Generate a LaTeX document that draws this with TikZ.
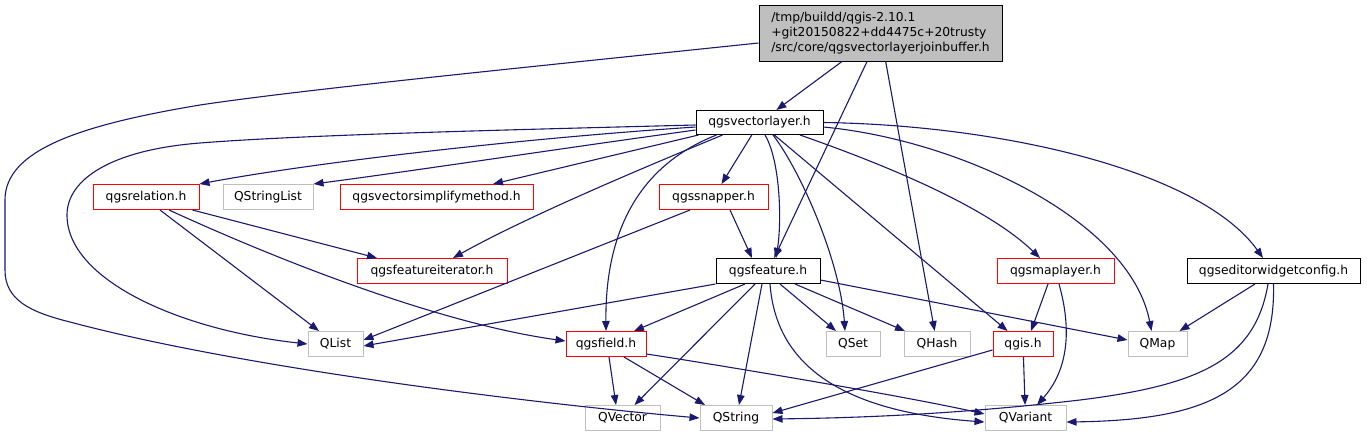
\documentclass[tikz,border=0pt]{standalone}
\usepackage{fontspec}
\setmainfont{DejaVu Sans}
\usetikzlibrary{arrows.meta}
\definecolor{edgecol}{HTML}{191970}
\definecolor{gbox}{HTML}{BFBFBF}
\definecolor{rbox}{HTML}{FF0000}
\begin{document}
\begin{tikzpicture}[x=1pt,y=-1pt,
  nb/.style={rectangle, inner sep=0pt, minimum height=25pt, line width=1pt, fill=white,
             font=\fontsize{12.3}{15}\selectfont},
  redbox/.style={nb, draw=rbox},
  graybox/.style={nb, draw=gbox},
  blackbox/.style={nb, draw=black},
  dep/.style={draw=edgecol, line width=1.1pt, -{Triangle[length=10pt,width=7.5pt]}}]
\useasboundingbox (0,0) rectangle (1367,440);

% nodes
\node[nb, draw=black, fill=gbox, minimum width=243pt, minimum height=56pt, align=left] (root) at (880.5,33)
  {/tmp/buildd/qgis-2.10.1\\+git20150822+dd4475c+20trusty\\/src/core/qgsvectorlayerjoinbuffer.h};
\node[blackbox, minimum width=127pt, minimum height=24pt] (vl) at (759.5,122.5) {qgsvectorlayer.h};
\node[redbox, minimum width=106pt] (rel) at (146,197) {qgsrelation.h};
\node[graybox, minimum width=90pt] (qsl) at (268,197) {QStringList};
\node[redbox, minimum width=193pt] (vsm) at (436.5,197) {qgsvectorsimplifymethod.h};
\node[redbox, minimum width=109pt] (snap) at (713.5,197) {qgssnapper.h};
\node[redbox, minimum width=150pt] (fit) at (432,271) {qgsfeatureiterator.h};
\node[blackbox, minimum width=104pt] (feat) at (768,271) {qgsfeature.h};
\node[redbox, minimum width=117pt] (ml) at (1055.5,271) {qgsmaplayer.h};
\node[blackbox, minimum width=173pt] (ewc) at (1273.5,271) {qgseditorwidgetconfig.h};
\node[graybox, minimum width=55pt] (qlist) at (335.5,344) {QList};
\node[redbox, minimum width=80pt] (field) at (606,344) {qgsfield.h};
\node[graybox, minimum width=54pt] (qset) at (853,344) {QSet};
\node[graybox, minimum width=66pt] (qhash) at (937,344) {QHash};
\node[redbox, minimum width=60pt] (qgis) at (1023,344) {qgis.h};
\node[graybox, minimum width=59pt] (qmap) at (1157.5,344) {QMap};
\node[graybox, minimum width=75pt] (qvec) at (622.5,418) {QVector};
\node[graybox, minimum width=72pt] (qstr) at (736,418) {QString};
\node[graybox, minimum width=81pt] (qvar) at (1025.5,418) {QVariant};

% root edges
\draw[dep] (root) -- (vl);
\draw[dep] (root) -- (feat);
\draw[dep] (root) -- (qhash);
\draw[dep] ([yshift=-10pt]root.west) .. controls (500,70) and (300,90) .. (200,105)
  .. controls (80,125) and (5,150) .. (5,200) -- (5,270)
  .. controls (5,300) and (30,312) .. (70,322)
  .. controls (250,370) and (550,405) .. (qstr.west);

% qgsvectorlayer.h edges
\draw[dep] ([yshift=-2.5pt]vl.west) .. controls (500,130) and (300,135) .. (200,143)
  .. controls (110,150) and (67,180) .. (67,215)
  .. controls (67,280) and (180,330) .. (qlist.west);
\draw[dep] ([yshift=-4.5pt]vl.west) .. controls (500,140) and (300,165) .. (rel.north east);
\draw[dep] ([yshift=-7.5pt]vl.west) .. controls (550,150) and (420,170) .. (qsl.north east);
\draw[dep] ([xshift=3pt]vl.south west) -- ([xshift=56.5pt]vsm.north);
\draw[dep] (vl) -- (snap);
\draw[dep] ([xshift=27pt]vl.south west) .. controls (650,165) and (530,215) .. ([xshift=21pt]fit.north);
\draw[dep] ([xshift=21pt]vl.south west) .. controls (640,165) and (605,230) .. (field.north);
\draw[dep] ([xshift=5.5pt]vl.south) .. controls (780,160) and (782,220) .. ([xshift=8pt]feat.north);
\draw[dep] ([xshift=13.5pt]vl.south) .. controls (800,170) and (840,260) .. ([xshift=-8pt]qset.north);
\draw[dep] (vl) -- (qgis);
\draw[dep] ([xshift=40.5pt]vl.south) .. controls (900,170) and (990,210) .. ([xshift=-15.5pt]ml.north);
\draw[dep] ([yshift=-4.5pt]vl.east) .. controls (960,140) and (1130,220) .. ([xshift=-6pt]qmap.north);
\draw[dep] (vl.east) .. controls (1000,125) and (1200,170) .. ([xshift=-10.5pt]ewc.north);

% qgsrelation.h edges
\draw[dep] ([xshift=14pt]rel.south) -- ([xshift=-16.5pt]qlist.north);
\draw[dep] ([xshift=23pt]rel.south) .. controls (300,270) and (450,325) .. ([yshift=3pt]field.west);
\draw[dep] ([xshift=-7pt]rel.south east) -- ([xshift=-55pt]fit.north);

% qgssnapper.h edges
\draw[dep] ([xshift=-23.5pt]snap.south) -- ([yshift=4pt]qlist.east);
\draw[dep] ([xshift=16.5pt]snap.south) -- ([xshift=-16pt]feat.north);

% qgsfeature.h edges
\draw[dep] (feat.south west) -- ([yshift=-2pt]qlist.east);
\draw[dep] ([xshift=-23pt]feat.south) -- ([xshift=28pt]field.north);
\draw[dep] ([xshift=-13pt]feat.south) -- ([xshift=12pt]qvec.north);
\draw[dep] ([xshift=-6pt]feat.south) -- ([xshift=3pt]qstr.north);
\draw[dep] ([xshift=2pt]feat.south) .. controls (775,350) and (820,410) .. ([yshift=-4pt]qvar.west);
\draw[dep] ([xshift=12pt]feat.south) -- ([xshift=-17pt]qset.north);
\draw[dep] ([xshift=27pt]feat.south) -- ([xshift=-32pt]qhash.north);
\draw[dep] ([yshift=-9pt]feat.east) -- ([yshift=4pt]qmap.west);

% qgsfield.h edges
\draw[dep] ([xshift=3pt]field.south) -- ([xshift=-6.5pt]qvec.north);
\draw[dep] ([xshift=18pt]field.south) -- ([xshift=-31pt]qstr.north);
\draw[dep] ([yshift=-10pt]field.east) .. controls (700,362) and (900,395) .. ([yshift=4pt]qvar.west);

% qgsmaplayer.h edges
\draw[dep] ([xshift=-7.5pt]ml.south) -- ([xshift=8pt]qgis.north);
\draw[dep] ([xshift=3.5pt]ml.south) .. controls (1072,330) and (1068,370) .. ([xshift=11.5pt]qvar.north);

% qgseditorwidgetconfig.h edges
\draw[dep] ([xshift=-18.5pt]ewc.south) -- ([xshift=22pt]qmap.north);
\draw[dep] ([xshift=-5.5pt]ewc.south) .. controls (1255,360) and (1200,385) .. (1080,400)
  .. controls (950,415) and (850,418) .. ([yshift=-1pt]qstr.east);
\draw[dep] (ewc.south) .. controls (1276,390) and (1210,420) .. ([yshift=-4pt]qvar.east);

% qgis.h edges
\draw[dep] ([yshift=-6pt]qgis.west) -- ([yshift=5pt]qstr.east);
\draw[dep] (qgis) -- (qvar);
\end{tikzpicture}
\end{document}
